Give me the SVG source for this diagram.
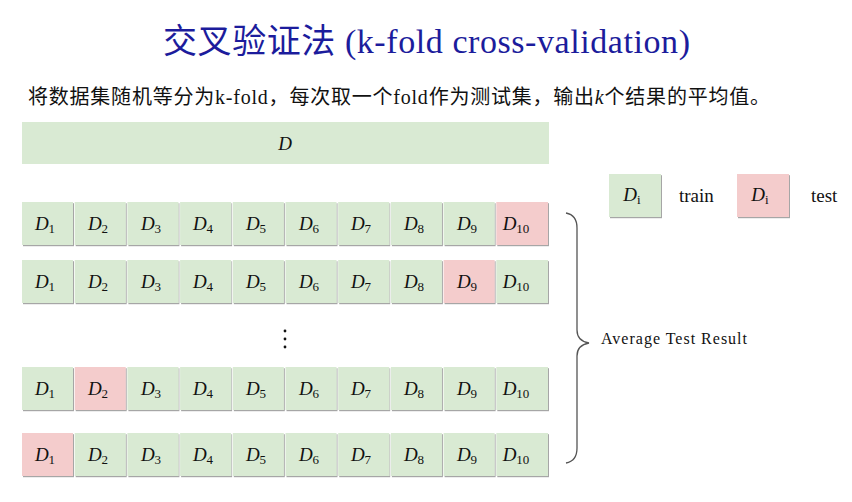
<svg xmlns="http://www.w3.org/2000/svg" width="852" height="502" viewBox="0 0 852 502">
<defs>
<filter id="sh" x="-10%" y="-10%" width="130%" height="130%">
<feDropShadow dx="1" dy="1.2" stdDeviation="0.7" flood-color="#000" flood-opacity="0.35"/>
</filter>
<style>
.tr{fill:#d9ead3;filter:url(#sh)}
.te{fill:#f4cccc;filter:url(#sh)}
.d{font-family:"Liberation Serif",serif;font-style:italic;font-size:19px;fill:#111;text-anchor:middle}
.s{font-style:normal;font-size:13px}
.lab{font-family:"Liberation Serif",serif;font-size:19px;fill:#111}
</style>
</defs>
<rect width="852" height="502" fill="#fff"/>
<g id="title">
<text x="163" y="53" font-family="'Liberation Serif','Noto Sans CJK SC',serif" font-size="34" fill="#1c1c9c" textLength="527">交叉验证法 (k-fold cross-validation)</text>
</g>
<g id="subtitle">
<text x="28" y="104" font-family="'Liberation Serif','Noto Sans CJK SC',serif" font-size="20" fill="#111" textLength="742">将数据集随机等分为k-fold，每次取一个fold作为测试集，输出<tspan font-style="italic">k</tspan>个结果的平均值。</text>
</g>
<g id="dataset">
<rect class="tr" x="22" y="122" width="527" height="42" style="filter:none"/>
<text class="d" x="285" y="150">D</text>
</g>
<g id="row1" transform="translate(0,202)">
<rect class="tr" x="22" width="51" height="43"/><rect class="tr" x="74.7" width="51" height="43"/><rect class="tr" x="127.4" width="51" height="43"/><rect class="tr" x="180.1" width="51" height="43"/><rect class="tr" x="232.8" width="51" height="43"/><rect class="tr" x="285.5" width="51" height="43"/><rect class="tr" x="338.2" width="51" height="43"/><rect class="tr" x="390.9" width="51" height="43"/><rect class="tr" x="443.6" width="51" height="43"/><rect class="te" x="496.3" width="51.7" height="43"/>
<text class="d" y="28"><tspan x="45">D</tspan><tspan class="s" dy="3">1</tspan><tspan x="98" dy="-3">D</tspan><tspan class="s" dy="3">2</tspan><tspan x="151" dy="-3">D</tspan><tspan class="s" dy="3">3</tspan><tspan x="203" dy="-3">D</tspan><tspan class="s" dy="3">4</tspan><tspan x="256" dy="-3">D</tspan><tspan class="s" dy="3">5</tspan><tspan x="309" dy="-3">D</tspan><tspan class="s" dy="3">6</tspan><tspan x="361" dy="-3">D</tspan><tspan class="s" dy="3">7</tspan><tspan x="414" dy="-3">D</tspan><tspan class="s" dy="3">8</tspan><tspan x="467" dy="-3">D</tspan><tspan class="s" dy="3">9</tspan><tspan x="516" dy="-3">D</tspan><tspan class="s" dy="3">10</tspan></text>
</g>
<g id="row2" transform="translate(0,260)">
<rect class="tr" x="22" width="51" height="43"/><rect class="tr" x="74.7" width="51" height="43"/><rect class="tr" x="127.4" width="51" height="43"/><rect class="tr" x="180.1" width="51" height="43"/><rect class="tr" x="232.8" width="51" height="43"/><rect class="tr" x="285.5" width="51" height="43"/><rect class="tr" x="338.2" width="51" height="43"/><rect class="tr" x="390.9" width="51" height="43"/><rect class="te" x="443.6" width="51" height="43"/><rect class="tr" x="496.3" width="51.7" height="43"/>
<text class="d" y="28"><tspan x="45">D</tspan><tspan class="s" dy="3">1</tspan><tspan x="98" dy="-3">D</tspan><tspan class="s" dy="3">2</tspan><tspan x="151" dy="-3">D</tspan><tspan class="s" dy="3">3</tspan><tspan x="203" dy="-3">D</tspan><tspan class="s" dy="3">4</tspan><tspan x="256" dy="-3">D</tspan><tspan class="s" dy="3">5</tspan><tspan x="309" dy="-3">D</tspan><tspan class="s" dy="3">6</tspan><tspan x="361" dy="-3">D</tspan><tspan class="s" dy="3">7</tspan><tspan x="414" dy="-3">D</tspan><tspan class="s" dy="3">8</tspan><tspan x="467" dy="-3">D</tspan><tspan class="s" dy="3">9</tspan><tspan x="516" dy="-3">D</tspan><tspan class="s" dy="3">10</tspan></text>
</g>
<g id="ellipsis" fill="#111">
<circle cx="285" cy="331" r="1.4"/><circle cx="285" cy="339" r="1.4"/><circle cx="285" cy="347" r="1.4"/>
</g>
<g id="row3" transform="translate(0,367)">
<rect class="tr" x="22" width="51" height="43"/><rect class="te" x="74.7" width="51" height="43"/><rect class="tr" x="127.4" width="51" height="43"/><rect class="tr" x="180.1" width="51" height="43"/><rect class="tr" x="232.8" width="51" height="43"/><rect class="tr" x="285.5" width="51" height="43"/><rect class="tr" x="338.2" width="51" height="43"/><rect class="tr" x="390.9" width="51" height="43"/><rect class="tr" x="443.6" width="51" height="43"/><rect class="tr" x="496.3" width="51.7" height="43"/>
<text class="d" y="28"><tspan x="45">D</tspan><tspan class="s" dy="3">1</tspan><tspan x="98" dy="-3">D</tspan><tspan class="s" dy="3">2</tspan><tspan x="151" dy="-3">D</tspan><tspan class="s" dy="3">3</tspan><tspan x="203" dy="-3">D</tspan><tspan class="s" dy="3">4</tspan><tspan x="256" dy="-3">D</tspan><tspan class="s" dy="3">5</tspan><tspan x="309" dy="-3">D</tspan><tspan class="s" dy="3">6</tspan><tspan x="361" dy="-3">D</tspan><tspan class="s" dy="3">7</tspan><tspan x="414" dy="-3">D</tspan><tspan class="s" dy="3">8</tspan><tspan x="467" dy="-3">D</tspan><tspan class="s" dy="3">9</tspan><tspan x="516" dy="-3">D</tspan><tspan class="s" dy="3">10</tspan></text>
</g>
<g id="row4" transform="translate(0,433)">
<rect class="te" x="22" width="51" height="43"/><rect class="tr" x="74.7" width="51" height="43"/><rect class="tr" x="127.4" width="51" height="43"/><rect class="tr" x="180.1" width="51" height="43"/><rect class="tr" x="232.8" width="51" height="43"/><rect class="tr" x="285.5" width="51" height="43"/><rect class="tr" x="338.2" width="51" height="43"/><rect class="tr" x="390.9" width="51" height="43"/><rect class="tr" x="443.6" width="51" height="43"/><rect class="tr" x="496.3" width="51.7" height="43"/>
<text class="d" y="28"><tspan x="45">D</tspan><tspan class="s" dy="3">1</tspan><tspan x="98" dy="-3">D</tspan><tspan class="s" dy="3">2</tspan><tspan x="151" dy="-3">D</tspan><tspan class="s" dy="3">3</tspan><tspan x="203" dy="-3">D</tspan><tspan class="s" dy="3">4</tspan><tspan x="256" dy="-3">D</tspan><tspan class="s" dy="3">5</tspan><tspan x="309" dy="-3">D</tspan><tspan class="s" dy="3">6</tspan><tspan x="361" dy="-3">D</tspan><tspan class="s" dy="3">7</tspan><tspan x="414" dy="-3">D</tspan><tspan class="s" dy="3">8</tspan><tspan x="467" dy="-3">D</tspan><tspan class="s" dy="3">9</tspan><tspan x="516" dy="-3">D</tspan><tspan class="s" dy="3">10</tspan></text>
</g>
<g id="legend">
<rect class="tr" x="609" y="174" width="52" height="43"/>
<text class="d" x="632" y="201">D<tspan class="s" font-style="italic" dy="3">i</tspan></text>
<text class="lab" x="679" y="202">train</text>
<rect class="te" x="737" y="174" width="52" height="43"/>
<text class="d" x="760" y="201">D<tspan class="s" font-style="italic" dy="3">i</tspan></text>
<text class="lab" x="811" y="202">test</text>
</g>
<g id="connectors">
<path d="M566,213 Q577,215 577,228 L577,330 Q577,341 589,343 Q577,345 577,356 L577,448 Q577,461 566,463" fill="none" stroke="#555" stroke-width="1.3"/>
</g>
<g id="result">
<text x="601" y="344" font-family="'Liberation Serif',serif" font-size="16" fill="#111" textLength="146">Average Test Result</text>
</g>
</svg>
